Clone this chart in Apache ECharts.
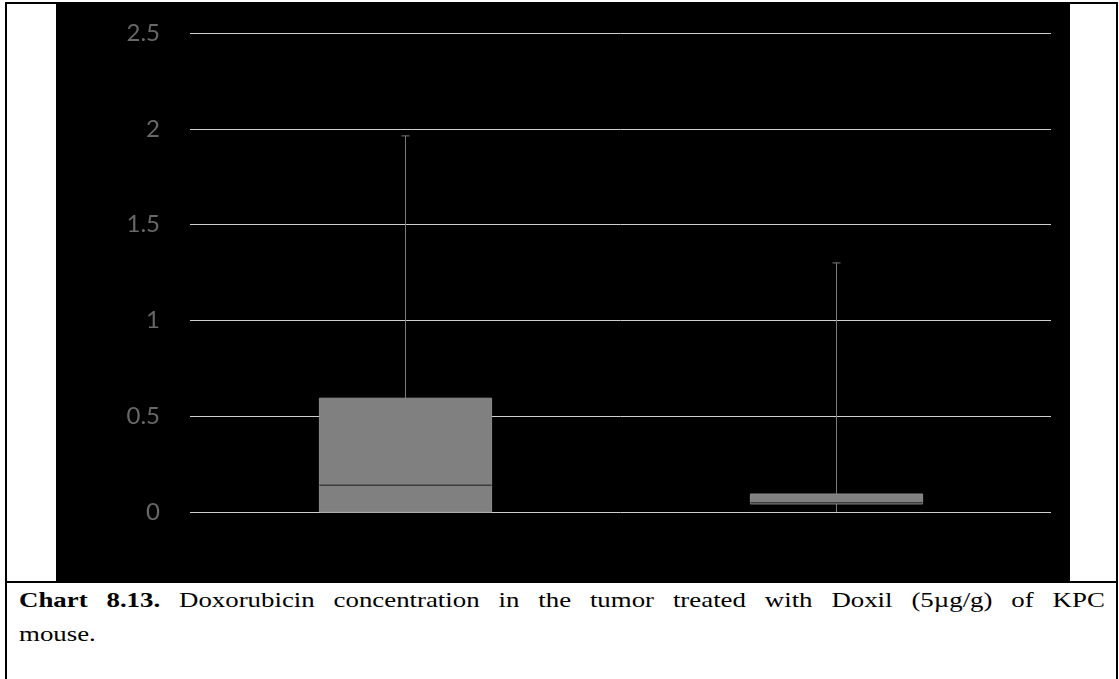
<!DOCTYPE html>
<html>
<head>
<meta charset="utf-8">
<script src="https://cdn.jsdelivr.net/npm/echarts@6/dist/echarts.min.js"></script>
<style>
  html, body { margin: 0; padding: 0; background: #fff; width: 1119px; height: 679px; overflow: hidden; }
  #frame { position: absolute; left: 5px; top: 2px; width: 1113px; height: 690px; border: 2px solid #000; border-bottom: none; box-sizing: border-box; }
  #chart { position: absolute; left: 56px; top: 4px; width: 1014px; height: 577px; background: #000; }
  #sep { position: absolute; left: 5px; top: 581px; width: 1113px; height: 2px; background: #000; }
  #caption { position: absolute; left: 19px; top: 583px; width: 890px; transform: scaleX(1.22); transform-origin: 0 0; font-family: "Liberation Serif", "Times New Roman", serif; font-size: 22px; line-height: 34px; color: #000; }
  #caption .l1 { text-align: justify; text-align-last: justify; white-space: nowrap; display: block; }
</style>
</head>
<body>
<div id="frame"></div>
<div id="chart"></div>
<div id="sep"></div>
<div id="caption"><div class="l1"><b>Chart 8.13.</b> Doxorubicin concentration in the tumor treated with Doxil (5µg/g) of KPC</div><div>mouse.</div></div>
<script>
// Data
var categories = ['Group 1', 'Group 2'];
var minValues    = [0.0, 0.0];
var q1Values     = [0.0, 0.042];
var medianValues = [0.14, 0.048];
var q3Values     = [0.594, 0.094];
var maxValues    = [1.963, 1.30];
var yTicks = [0, 0.5, 1, 1.5, 2, 2.5];

var boxData = categories.map(function (c, i) {
  return [i, minValues[i], q1Values[i], medianValues[i], q3Values[i], maxValues[i]];
});

var chart = echarts.init(document.getElementById('chart'), null, { renderer: 'canvas' });

function renderBox(params, api) {
  var idx = api.value(0);
  var pMin = api.coord([idx, api.value(1)]);
  var pQ1 = api.coord([idx, api.value(2)]);
  var pMed = api.coord([idx, api.value(3)]);
  var pQ3 = api.coord([idx, api.value(4)]);
  var pMax = api.coord([idx, api.value(5)]);
  var band = api.size([1, 0])[0];
  var halfW = band * 0.2;
  var cx = Math.round(pQ1[0]) + 0.5;
  var whisker = { stroke: '#7a7a7a', lineWidth: 1 };
  return {
    type: 'group',
    children: [
      { type: 'line', shape: { x1: cx, y1: pMax[1], x2: cx, y2: pQ3[1] }, style: whisker },
      { type: 'line', shape: { x1: cx, y1: pQ1[1], x2: cx, y2: pMin[1] }, style: whisker },
      { type: 'line', shape: { x1: cx - 4, y1: pMax[1], x2: cx + 4, y2: pMax[1] }, style: whisker },
      { type: 'rect', shape: { x: cx - halfW, y: pQ3[1], width: halfW * 2, height: pQ1[1] - pQ3[1] },
        style: { fill: '#808080', stroke: '#8c8c8c', lineWidth: 1 } },
      { type: 'line', shape: { x1: cx - halfW, y1: pMed[1], x2: cx + halfW, y2: pMed[1] },
        style: { stroke: '#3c3c3c', lineWidth: 1.5 } }
    ]
  };
}

chart.setOption({
  backgroundColor: '#000',
  animation: false,
  grid: { left: 134, right: 19, top: 29, bottom: 69 },
  xAxis: {
    type: 'category',
    data: categories,
    axisLine: { show: false },
    axisTick: { show: false },
    axisLabel: { show: false },
    splitLine: { show: false }
  },
  yAxis: {
    type: 'value',
    min: yTicks[0],
    max: yTicks[yTicks.length - 1],
    interval: 0.5,
    axisLine: { show: false },
    axisTick: { show: false },
    axisLabel: {
      color: '#686868',
      fontSize: 24,
      fontFamily: 'Lato, "Open Sans", sans-serif',
      margin: 30,
      formatter: function (v) { return String(v); }
    },
    splitLine: { lineStyle: { color: '#d0d0d0', width: 1 } }
  },
  series: [{
    type: 'custom',
    renderItem: renderBox,
    data: boxData,
    encode: { x: 0, y: [1, 2, 3, 4, 5] },
    z: 3
  }]
});
</script>
</body>
</html>
